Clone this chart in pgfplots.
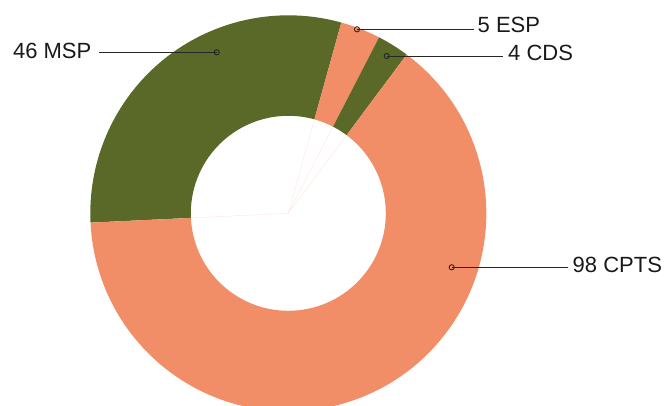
\documentclass[border=0pt]{standalone}
\usepackage{pgfplots}
\usepackage{pgfplotstable}
\pgfplotsset{compat=1.18}
\usepackage{fontspec}
\setmainfont{Liberation Sans}
\definecolor{salmonC}{HTML}{F28E67}
\definecolor{oliveC}{HTML}{5A6928}

\pgfplotstableread{
label value col
MSP 46 oliveC
ESP 5 salmonC
CDS 4 oliveC
CPTS 98 salmonC
}\donutdata

\begin{document}%
\begin{tikzpicture}
% compute slice angles (clockwise from the start angle)
\def\startangle{182.7}
\gdef\total{0}
\foreach \i in {0,...,3}{%
  \pgfplotstablegetelem{\i}{value}\of\donutdata
  \pgfmathsetmacro\t{\total+\pgfplotsretval}%
  \xdef\total{\t}%
}
\xdef\cur{\startangle}
\foreach \i in {0,...,3}{%
  \pgfplotstablegetelem{\i}{value}\of\donutdata
  \pgfmathsetmacro\e{\cur-\pgfplotsretval/\total*360}%
  \expandafter\xdef\csname sa\i\endcsname{\cur}%
  \expandafter\xdef\csname ea\i\endcsname{\e}%
  \xdef\cur{\e}%
  \pgfplotstablegetelem{\i}{col}\of\donutdata
  \expandafter\xdef\csname co\i\endcsname{\pgfplotsretval}%
}
\begin{axis}[
  x=1pt, y=1pt,
  xmin=0, xmax=667, ymin=0, ymax=405,
  hide axis, clip=true,
]
\pgfplotsinvokeforeach{0,...,3}{
  \fill[fill=\csname co#1\endcsname]
    (axis cs:288.3,191.7) ++(\csname sa#1\endcsname:198pt)
    arc[start angle=\csname sa#1\endcsname, end angle=\csname ea#1\endcsname, radius=198pt]
    -- ++(\csname ea#1\endcsname:-100.5pt)
    arc[start angle=\csname ea#1\endcsname, end angle=\csname sa#1\endcsname, radius=97.5pt]
    -- cycle;
  \draw[salmonC!25, line width=0.35pt] (axis cs:288.3,191.7) -- ++(\csname sa#1\endcsname:97.5pt);
}
% leader lines
\addplot[black!85, line width=0.8pt, mark=o, mark size=2.6pt, mark indices={1},
  mark options={line width=0.9pt}] coordinates {(357,375.7) (474,375.7)};
\addplot[black!85, line width=0.8pt, mark=o, mark size=2.6pt, mark indices={1},
  mark options={line width=0.9pt}] coordinates {(386.7,349) (503,349)};
\addplot[black!85, line width=0.8pt, mark=o, mark size=2.6pt, mark indices={1},
  mark options={line width=0.9pt}] coordinates {(216.7,352.7) (99,352.7)};
\addplot[black!85, line width=0.8pt, mark=o, mark size=2.6pt, mark indices={1},
  mark options={line width=0.9pt}] coordinates {(451.7,137.7) (568,137.7)};
\node[anchor=base west, inner sep=0pt, font=\fontsize{22}{26}\selectfont, text=black!90] at (axis cs:477.5,372) {5 ESP};
\node[anchor=base west, inner sep=0pt, font=\fontsize{22}{26}\selectfont, text=black!90] at (axis cs:508,344) {4 CDS};
\node[anchor=base east, inner sep=0pt, font=\fontsize{22}{26}\selectfont, text=black!90] at (axis cs:91.5,346) {46 MSP};
\node[anchor=base west, inner sep=0pt, font=\fontsize{22}{26}\selectfont, text=black!90] at (axis cs:572.5,132.7) {98 CPTS};
\end{axis}
\pgfresetboundingbox
\useasboundingbox (0,0) rectangle (667pt,405pt);
\end{tikzpicture}%
\end{document}
